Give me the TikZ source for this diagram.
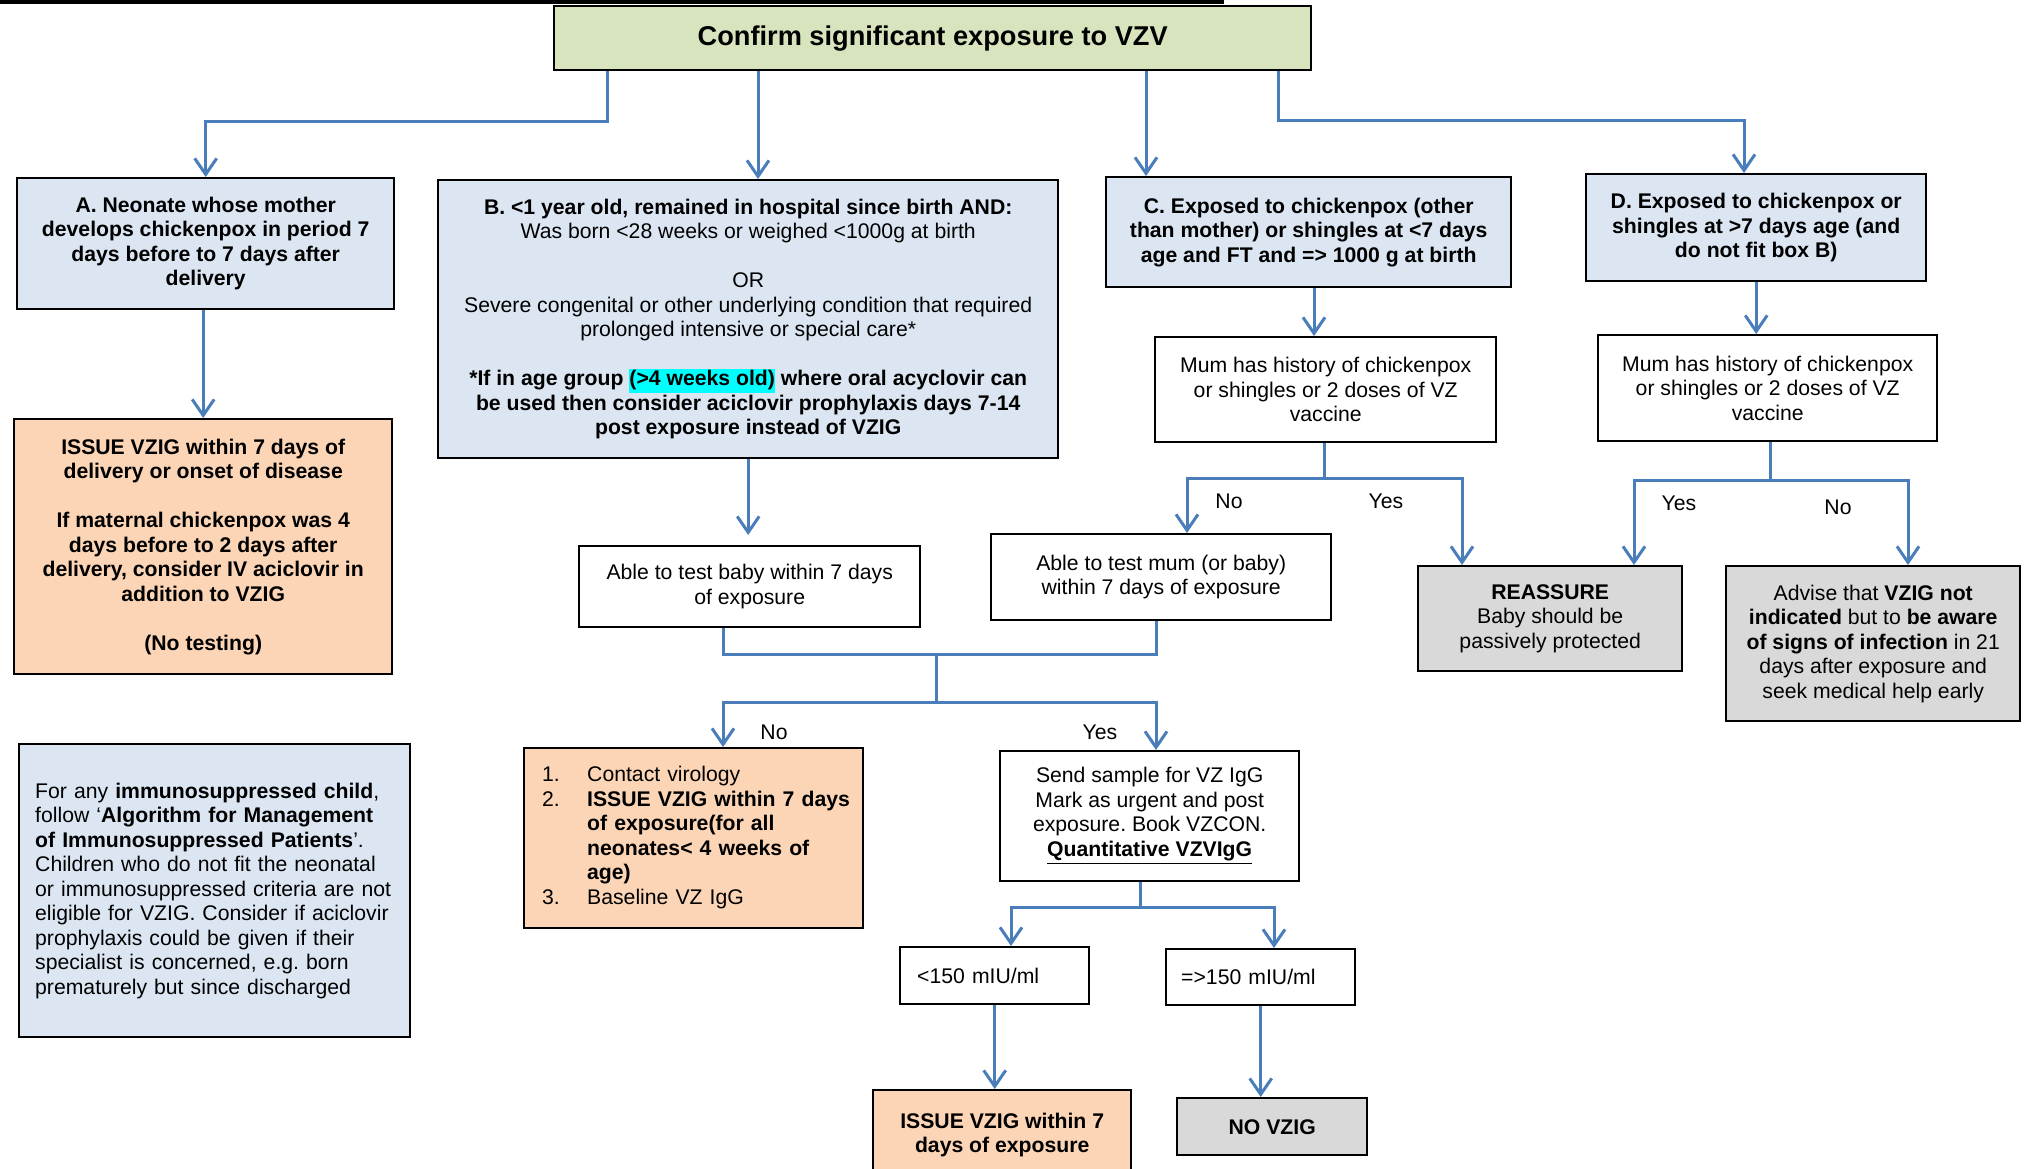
\documentclass[tikz,border=0pt]{standalone}
\usepackage{fontspec}
\setmainfont{Liberation Sans}
\usetikzlibrary{arrows.meta}
\definecolor{bxblue}{HTML}{DCE6F2}
\definecolor{bxgreen}{HTML}{D7E4BD}
\definecolor{bxpeach}{HTML}{FBD5B5}
\definecolor{bxgrey}{HTML}{D9D9D9}
\definecolor{lnblue}{HTML}{4A7EBB}
\definecolor{hlcyan}{HTML}{00FFFF}
\setlength{\fboxsep}{0pt}
\tikzset{
  box/.style={draw=black, line width=1.2pt, inner sep=2pt, anchor=north west, align=center,
    font=\frenchspacing\fontsize{10.6}{12.25}\selectfont},
  bbox/.style={box, font=\frenchspacing\bfseries\fontsize{10.6}{12.25}\selectfont},
  line/.style={draw=lnblue, line width=1.5pt},
  conn/.style={line, -{Straight Barb[length=8pt,width=11pt]}},
  lbl/.style={font=\fontsize{10.6}{12.25}\selectfont, inner sep=0pt}
}
\begin{document}
\frenchspacing
\begin{tikzpicture}[x=0.5pt,y=-0.5pt]
\useasboundingbox (0,0) rectangle (2029,1168);
\clip (0,0) rectangle (2029,1168);
\fill[white] (0,0) rectangle (2029,1168);
\fill[black] (0,0) rectangle (1224,4);

% nodes
\node[box, fill=bxgreen, minimum width=378.5pt, minimum height=32pt,
  font=\bfseries\fontsize{13.6}{16}\selectfont] (top) at (553,5) {Confirm significant exposure to VZV};

\node[bbox, fill=bxblue, minimum width=188.5pt, minimum height=65.5pt] (A) at (16,177)
  {A. Neonate whose mother\\develops chickenpox in period 7\\days before to 7 days after\\delivery};

\node[box, fill=bxblue, minimum width=310pt, minimum height=139pt] (B) at (437,179)
  {\textbf{B. <1 year old, remained in hospital since birth AND:}\\
   Was born <28 weeks or weighed <1000g at birth\\[12.25pt]
   OR\\
   Severe congenital or other underlying condition that required\\
   prolonged intensive or special care*\\[12.25pt]
   \textbf{*If in age group \colorbox{hlcyan}{\strut(>4 weeks old)} where oral acyclovir can}\\
   \textbf{be used then consider aciclovir prophylaxis days 7-14}\\
   \textbf{post exposure instead of VZIG}};

\node[bbox, fill=bxblue, minimum width=202.5pt, minimum height=55pt] (C) at (1105,176)
  {C. Exposed to chickenpox (other\\than mother) or shingles at <7 days\\age and FT and => 1000 g at birth};

\node[bbox, fill=bxblue, minimum width=170pt, minimum height=53.5pt] (D) at (1585,173)
  {D. Exposed to chickenpox or\\shingles at >7 days age (and\\do not fit box B)};

\node[bbox, fill=bxpeach, minimum width=189pt, minimum height=127.5pt] (Aiss) at (13,418)
  {ISSUE VZIG within 7 days of\\delivery or onset of disease\\[12.25pt]
   If maternal chickenpox was 4\\days before to 2 days after\\delivery, consider IV aciclovir in\\addition to VZIG\\[12.25pt]
   (No testing)};

\node[box, minimum width=170.5pt, minimum height=40.5pt] (ableB) at (578,545)
  {Able to test baby within 7 days\\of exposure};

\node[box, minimum width=170.5pt, minimum height=52.5pt] (mumC) at (1154,336)
  {Mum has history of chickenpox\\or shingles or 2 doses of VZ\\vaccine};

\node[box, minimum width=169.5pt, minimum height=53pt] (mumD) at (1597,334)
  {Mum has history of chickenpox\\or shingles or 2 doses of VZ\\vaccine};

\node[box, minimum width=170pt, minimum height=43pt] (ableM) at (990,533)
  {Able to test mum (or baby)\\within 7 days of exposure};

\node[box, fill=bxgrey, minimum width=132pt, minimum height=52.5pt] (reass) at (1417,565)
  {\textbf{REASSURE}\\Baby should be\\passively protected};

\node[box, fill=bxgrey, minimum width=147pt, minimum height=77.5pt] (advise) at (1725,565)
  {Advise that \textbf{VZIG not}\\\textbf{indicated} but to \textbf{be aware}\\\textbf{of signs of infection} in 21\\days after exposure and\\seek medical help early};

\node[box, fill=bxpeach, align=left, text width=151.5pt, inner xsep=9pt, minimum height=90pt] (noBox) at (523,747)
  {\begin{tabular}{@{}p{22.5pt}@{}l@{}}
   1. & Contact virology\\
   2. & \textbf{ISSUE VZIG within 7 days}\\
      & \textbf{of exposure(for all}\\
      & \textbf{neonates< 4 weeks of}\\
      & \textbf{age)}\\
   3. & Baseline VZ IgG
   \end{tabular}};

\node[box, minimum width=149.5pt, minimum height=65pt] (send) at (999,750)
  {Send sample for VZ IgG\\Mark as urgent and post\\exposure. Book VZCON.\\\textbf{\underline{Quantitative VZVIgG}}};

\node[box, align=left, text width=77.5pt, inner xsep=8.5pt, minimum height=28.5pt] (lt150) at (899,946)
  {<150 mIU/ml};

\node[box, align=left, text width=79.5pt, inner xsep=7.5pt, minimum height=28pt] (ge150) at (1165,948)
  {=>150 mIU/ml};

\node[bbox, fill=bxpeach, minimum width=129pt, minimum height=45pt] (issue7) at (872,1089)
  {ISSUE VZIG within 7\\days of exposure};

\node[bbox, fill=bxgrey, minimum width=95pt, minimum height=28.5pt] (noV) at (1176,1097)
  {NO VZIG};

\node[box, fill=bxblue, align=left, text width=179.5pt, inner xsep=8pt, minimum height=146.5pt] (immuno) at (18,743)
  {For any \textbf{immunosuppressed child},\\
   follow ‘\textbf{Algorithm for Management}\\
   \textbf{of Immunosuppressed Patients}’.\\
   Children who do not fit the neonatal\\
   or immunosuppressed criteria are not\\
   eligible for VZIG. Consider if aciclovir\\
   prophylaxis could be given if their\\
   specialist is concerned, e.g. born\\
   prematurely but since discharged};

% junction coordinates
\coordinate (jc) at (1324,478);
\coordinate (jd) at (1770,480);
\coordinate (jm) at (936,654);
\coordinate (jn) at (936,702);
\coordinate (js) at (1140,907);

% connectors from top
\draw[conn] (top.south -| 607,0) -- (607,121) -| (A.north);
\draw[conn] (top.south -| 758,0) -- (B.north -| 758,0);
\draw[conn] (top.south -| 1146,0) -- (C.north -| 1146,0);
\draw[conn] (top.south -| 1278,0) -- (1278,120) -| (D.north -| 1744,0);

\draw[conn] (A.south -| Aiss.north) -- (Aiss.north);
\draw[conn, shorten >=5pt] (B.south) -- (ableB.north -| B.south);
\draw[conn] (C.south -| 1314,0) -- (mumC.north -| 1314,0);
\draw[conn] (D.south) -- (mumD.north -| D.south);

% mum C split
\draw[line] (mumC.south -| jc) -- (jc);
\draw[conn] (jc) -| (ableM.north -| 1187,0);
\draw[conn] (jc) -| (reass.north -| 1462,0);
\node[lbl] (noC) at (1229,501) {No};
\node[lbl] (yesC) at (1386,501) {Yes};

% mum D split
\draw[line] (mumD.south -| jd) -- (jd);
\draw[conn] (jd) -| (reass.north -| 1634,0);
\draw[conn] (jd) -| (advise.north -| 1908,0);
\node[lbl] (yesD) at (1679,503) {Yes};
\node[lbl] (noD) at (1838,507) {No};

% merge of able-to-test boxes
\draw[line] (ableB.south -| 723,0) |- (jm);
\draw[line] (ableM.south -| 1156,0) |- (jm);
\draw[line] (jm) -- (jn);
\draw[conn] (jn) -| (noBox.north -| 723,0);
\draw[conn] (jn) -| (send.north -| 1156,0);
\node[lbl] (noM) at (774,732) {No};
\node[lbl] (yesM) at (1100,732) {Yes};

% send split
\draw[line] (send.south -| js) -- (js);
\draw[conn] (js) -| (lt150.north -| 1011,0);
\draw[conn] (js) -| (ge150.north -| 1274,0);
\draw[conn] (lt150.south) -- (issue7.north -| lt150.south);
\draw[conn] (ge150.south) -- (noV.north -| ge150.south);
\end{tikzpicture}
\end{document}
